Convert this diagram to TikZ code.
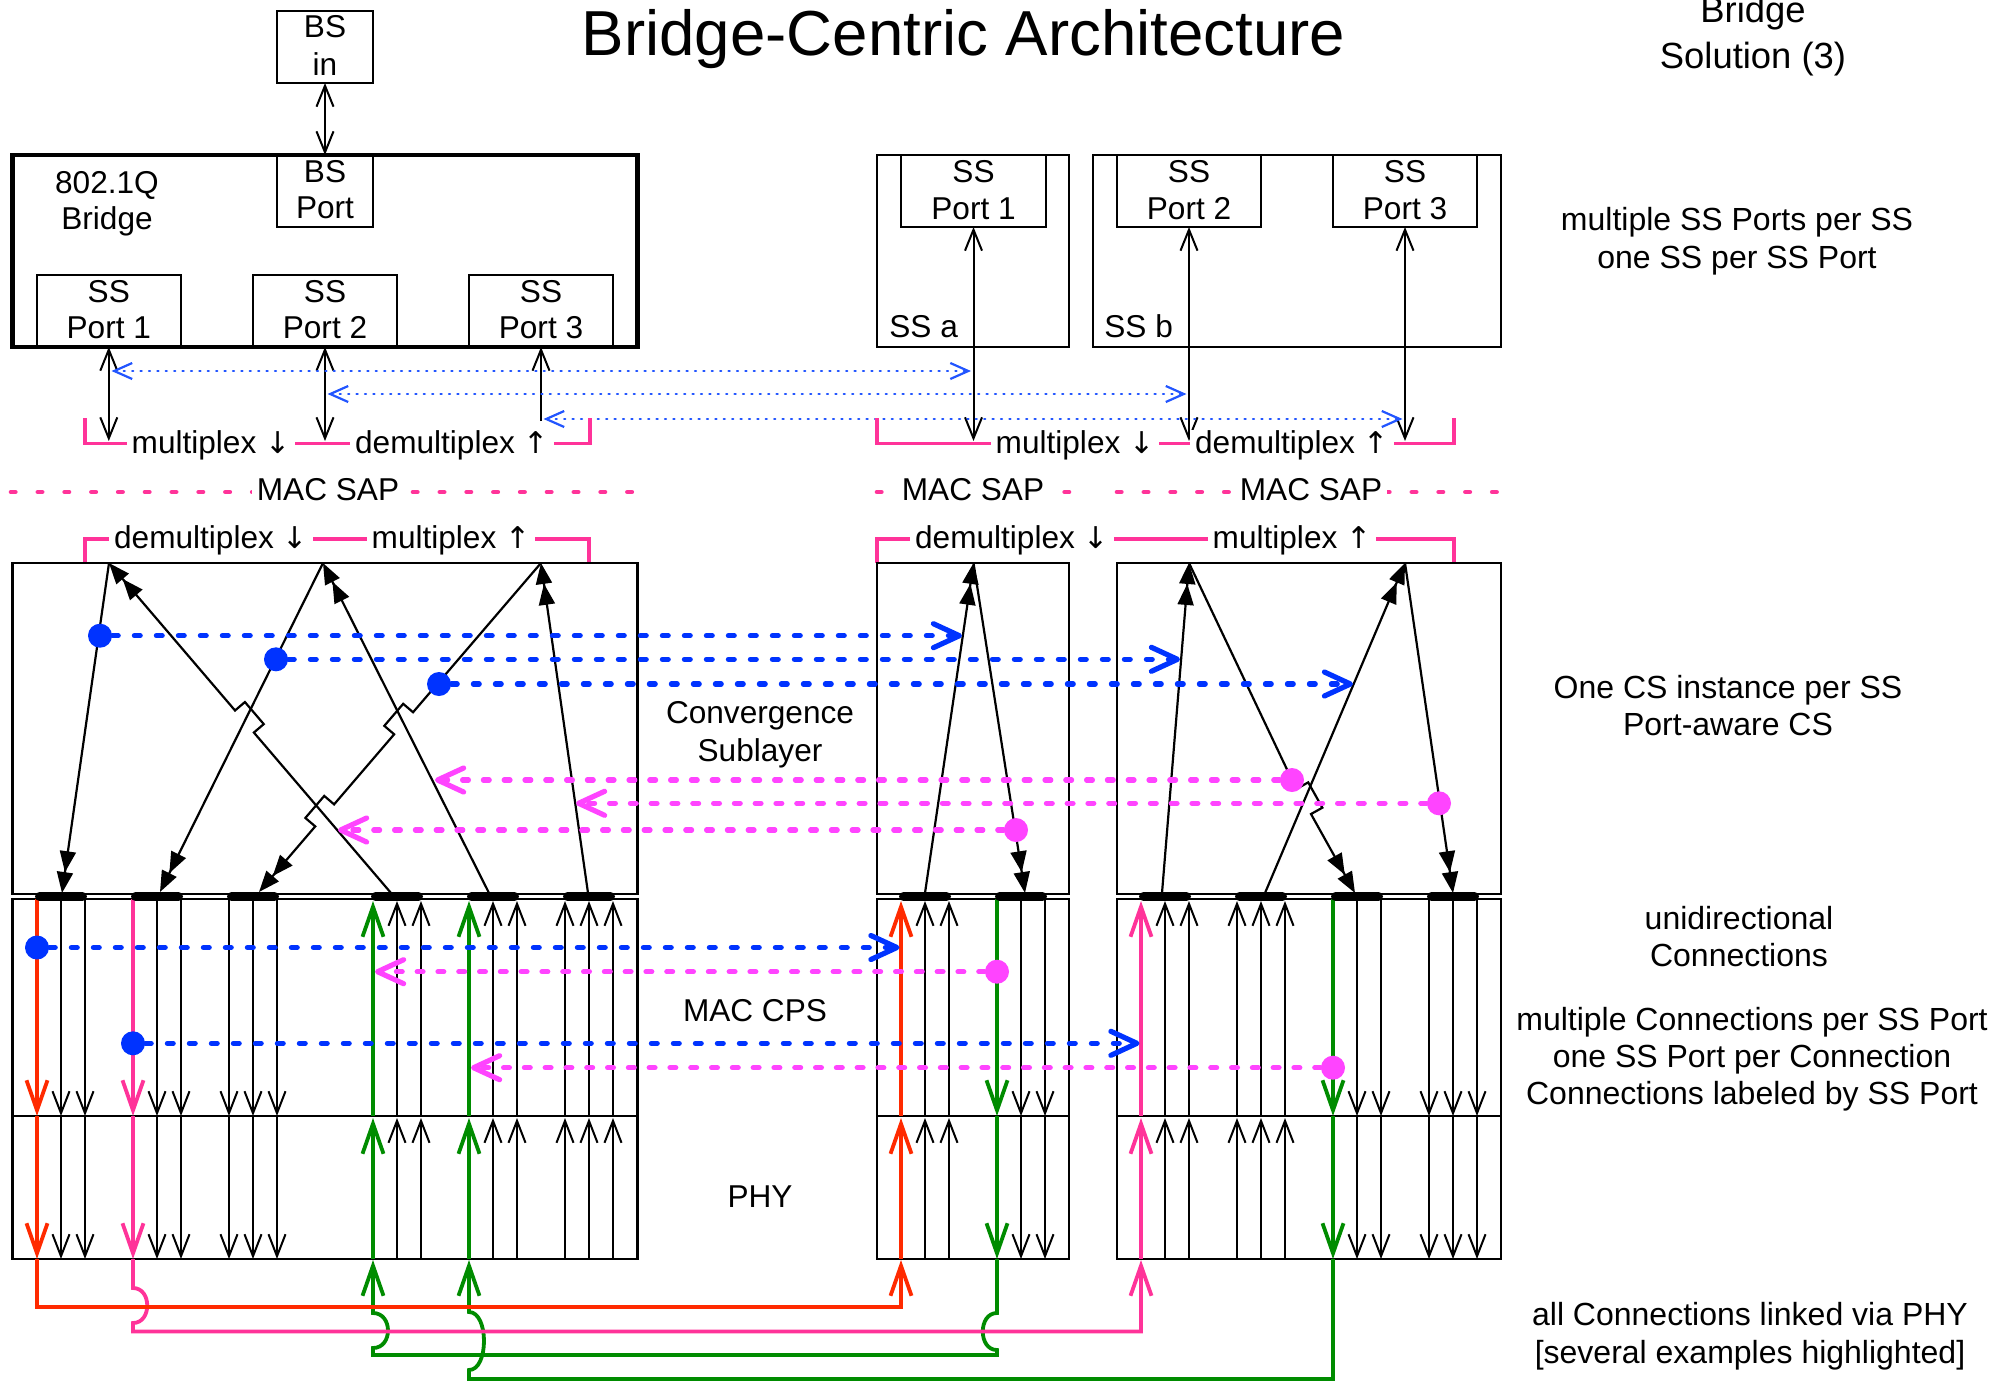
\documentclass[tikz,border=0pt]{standalone}
\usepackage{fontspec}
\setmainfont{Liberation Sans}
\newfontfamily\arrowglyph{DejaVu Sans}
\newcommand\dnar{{\arrowglyph\fontsize{15}{15}\selectfont ↓}}
\newcommand\upar{{\arrowglyph\fontsize{15}{15}\selectfont ↑}}
\usetikzlibrary{arrows.meta,calc,fit}
\definecolor{cred}{HTML}{FF2A00}
\definecolor{cpink}{HTML}{FF3399}
\definecolor{cmag}{HTML}{FF44FF}
\definecolor{cblue}{HTML}{0033FF}
\definecolor{ctblue}{HTML}{2255FF}
\definecolor{cgreen}{HTML}{008C00}
\newcommand\mkbump[6]{%
  \coordinate (#1a) at ($(#4)!7.25pt!(#2)$);
  \coordinate (#1b) at ($(#1a)!6.5pt!#5:(#4)$);
  \coordinate (#1d) at ($(#4)!7.25pt!(#3)$);
  \coordinate (#1c) at ($(#1d)!6.5pt!#6:(#4)$);
}
\tikzset{
  thinbox/.style={draw, line width=1.1pt, inner sep=0pt, outer sep=0pt},
  thickbox/.style={draw, line width=2.3pt, inner sep=0pt, outer sep=0pt},
  lbltext/.style={font=\fontsize{15.8}{18.5}\selectfont, inner sep=0pt, anchor=base},
  sidetext/.style={font=\fontsize{16}{19}\selectfont, inner sep=0pt, anchor=base},
  brl/.style={font=\fontsize{15.8}{18.5}\selectfont, fill=white, inner xsep=2.5pt, inner ysep=0.5pt, anchor=base},
  dblarrow/.style={line width=1pt, {Straight Barb[length=10.5pt,width=8.5pt]}-{Straight Barb[length=10.5pt,width=8.5pt]}},
  onearrow/.style={line width=1pt, -{Straight Barb[length=10.5pt,width=8.5pt]}},
  csarrow/.style={line width=1.1pt, -{Triangle[length=10.5pt,width=8pt]Triangle[length=10.5pt,width=8pt]}},
  connarrow/.style={line width=1pt, -{Straight Barb[length=11pt,width=8.5pt]}},
  colarrow/.style={line width=1.9pt, -{Straight Barb[length=15pt,width=10.5pt]}},
  tdot/.style={draw=ctblue, line width=1.1pt, line cap=round, dash pattern=on 0.6pt off 3.6pt, {Straight Barb[length=9pt,width=8pt]}-{Straight Barb[length=9pt,width=8pt]}},
  bdot/.style={draw=cblue, line width=2.6pt, line cap=round, dash pattern=on 2.9pt off 8.1pt, -{Straight Barb[length=13pt,width=12pt,round]}},
  mdot/.style={draw=cmag, line width=2.6pt, line cap=round, dash pattern=on 2.9pt off 7.5pt, -{Straight Barb[length=13pt,width=12pt,round]}},
  sapline/.style={draw=cpink, line width=2.3pt, line cap=round, dash pattern=on 2.2pt off 11.2pt},
  brkline/.style={draw=cpink, line width=1.9pt},
  cbar/.style={line width=4.5pt, line cap=round},
  dotb/.style={circle, fill=cblue, inner sep=0pt, minimum size=12pt},
  dotm/.style={circle, fill=cmag, inner sep=0pt, minimum size=12pt},
}
\begin{document}
\begin{tikzpicture}[x=0.5pt,y=-0.5pt]
\path[use as bounding box, fill=white] (0,0) rectangle (1997,1382);

% ---------- top boxes
\node[thinbox, fit={(277,11) (373,83)}] (bsin) {};
\node[thickbox, fit={(12.5,155) (637.5,347)}] (bridge) {};
\node[thinbox, fit={(277,155) (373,227)}] (bsport) {};
\node[thinbox, fit={(36.6,275) (181,347)}] (lp1) {};
\node[thinbox, fit={(253,275) (397,347)}] (lp2) {};
\node[thinbox, fit={(469,275) (613,347)}] (lp3) {};
\node[thinbox, fit={(877,155) (1069,347)}] (ssa) {};
\node[thinbox, fit={(901,155) (1046,227)}] (ap1) {};
\node[thinbox, fit={(1093,155) (1501,347)}] (ssb) {};
\node[thinbox, fit={(1117,155) (1261,227)}] (bp2) {};
\node[thinbox, fit={(1333,155) (1477,227)}] (bp3) {};

\node[lbltext] (t1) at (325,37.5) {BS};
\node[lbltext] (t2) at (325,75) {in};
\node[lbltext] (t3) at (325,182) {BS};
\node[lbltext] (t4) at (325,218.6) {Port};
\node[lbltext] (t5) at (107,193) {802.1Q};
\node[lbltext] (t6) at (107,229) {Bridge};
\node[lbltext] (t7) at (108.8,302) {SS};
\node[lbltext] (t8) at (108.8,338.6) {Port 1};
\node[lbltext] (t9) at (325,302) {SS};
\node[lbltext] (t10) at (325,338.6) {Port 2};
\node[lbltext] (t11) at (541,302) {SS};
\node[lbltext] (t12) at (541,338.6) {Port 3};
\node[lbltext] (t13) at (973.5,182) {SS};
\node[lbltext] (t14) at (973.5,219.6) {Port 1};
\node[lbltext] (t15) at (1189,182) {SS};
\node[lbltext] (t16) at (1189,219.6) {Port 2};
\node[lbltext] (t17) at (1405,182) {SS};
\node[lbltext] (t18) at (1405,219.6) {Port 3};
\node[lbltext, anchor=base west] (t19) at (889,337.5) {SS a};
\node[lbltext, anchor=base west] (t20) at (1104,337.5) {SS b};

% ---------- title and side texts
\node[font=\fontsize{31.8}{36}\selectfont, inner sep=0pt, anchor=base] (title) at (963.5,55) {Bridge-Centric Architecture};
\node[font=\fontsize{18.2}{22}\selectfont, inner sep=0pt, anchor=base] (sol1) at (1753,22.7) {Bridge};
\node[font=\fontsize{18.2}{22}\selectfont, inner sep=0pt, anchor=base] (sol2) at (1753,68.3) {Solution (3)};
\node[sidetext] (s1) at (1737,230) {multiple SS Ports per SS};
\node[sidetext] (s2) at (1737,268.3) {one SS per SS Port};
\node[sidetext] (s3) at (1728,698.3) {One CS instance per SS};
\node[sidetext] (s4) at (1728,735) {Port-aware CS};
\node[sidetext] (s5) at (1739,929.3) {unidirectional};
\node[sidetext] (s6) at (1739,966.7) {Connections};
\node[sidetext] (s7) at (1752,1030) {multiple Connections per SS Port};
\node[sidetext] (s8) at (1752,1067.3) {one SS Port per Connection};
\node[sidetext] (s9) at (1752,1104.6) {Connections labeled by SS Port};
\node[sidetext] (s10) at (1750,1325) {all Connections linked via PHY};
\node[sidetext] (s11) at (1750,1363.3) {[several examples highlighted]};

% ---------- top vertical arrows
\coordinate (lm1) at (108.8,441);
\coordinate (lm2) at (325,441);
\coordinate (lm3) at (541,421);
\coordinate (rm1) at (973.5,441);
\coordinate (rm2) at (1189,441);
\coordinate (rm3) at (1405,441);
\draw[dblarrow] (bsin.south) -- (bsport.north);
\draw[dblarrow] (lp1.south) -- (lm1);
\draw[dblarrow] (lp2.south) -- (lm2);
\draw[onearrow] (lm3) -- (lp3.south);
\draw[dblarrow] (ap1.south) -- (rm1);
\draw[dblarrow] (bp2.south) -- (rm2);
\draw[dblarrow] (bp3.south) -- (rm3);

% thin blue dotted arrows
\coordinate (q1l) at (111.5,371); \coordinate (q1r) at (971,371);
\coordinate (q2l) at (327.5,394); \coordinate (q2r) at (1186.5,394);
\coordinate (q3l) at (543.5,419); \coordinate (q3r) at (1402.5,419);
\draw[tdot] (q1l) -- (q1r);
\draw[tdot] (q2l) -- (q2r);
\draw[tdot] (q3l) -- (q3r);

% ---------- brackets and MAC SAP
\draw[brkline] (85,418) -- (85,443.5) -- (590,443.5) -- (590,418);
\node[brl] (mx1) at (211,453.6) {multiplex \dnar};
\node[brl] (dm1) at (452,453.6) {demultiplex \upar};
\draw[brkline] (877,418) -- (877,443.5) -- (1454,443.5) -- (1454,418);
\node[brl] (mx2) at (1075,453.6) {multiplex \dnar};
\node[brl] (dm2) at (1292,453.6) {demultiplex \upar};
\draw[sapline] (11,492) -- (634,492);
\node[brl] (sap1) at (328,500) {MAC SAP};
\draw[sapline] (877,492) -- (1069,492);
\node[brl] (sap2) at (973,500) {MAC SAP};
\draw[sapline] (1117,492) -- (1500,492);
\node[brl] (sap3) at (1311,500) {MAC SAP};
\draw[brkline] (85,563) -- (85,539) -- (589,539) -- (589,563);
\node[brl] (dm3) at (211,548) {demultiplex \dnar};
\node[brl] (mx3) at (451,548) {multiplex \upar};
\draw[brkline] (877,563) -- (877,539) -- (1454,539) -- (1454,563);
\node[brl] (dm4) at (1012,548) {demultiplex \dnar};
\node[brl] (mx4) at (1292,548) {multiplex \upar};

% ---------- layer boxes
\node[thinbox, fit={(12.5,563) (637.5,894)}] (lcs) {};
\node[thinbox, fit={(12.5,899) (637.5,1259)}] (lmac) {};
\node[thinbox, fit={(877,563) (1069,894)}] (acs) {};
\node[thinbox, fit={(877,899) (1069,1259)}] (amac) {};
\node[thinbox, fit={(1117,563) (1501,894)}] (bcs) {};
\node[thinbox, fit={(1117,899) (1501,1259)}] (bmac) {};
\draw[line width=1.1pt] (lmac.west |- 0,1116) -- (lmac.east |- 0,1116);
\draw[line width=1.1pt] (amac.west |- 0,1116) -- (amac.east |- 0,1116);
\draw[line width=1.1pt] (bmac.west |- 0,1116) -- (bmac.east |- 0,1116);

\node[lbltext] (cs1) at (760,723) {Convergence};
\node[lbltext] (cs2) at (760,761) {Sublayer};
\node[lbltext] (mcps) at (755,1021) {MAC CPS};
\node[lbltext] (phy) at (760,1207) {PHY};

% ---------- black connections
\foreach \x in {61,85,157,181,229,253,277,1021,1045,1357,1381,1429,1453,1477} {
  \draw[connarrow] (\x,899) -- (\x,1116);
  \draw[connarrow] (\x,1116) -- (\x,1259);
}
\foreach \x in {397,421,493,517,565,589,613,925,949,1165,1189,1237,1261,1285} {
  \draw[connarrow] (\x,1116) -- (\x,901);
  \draw[connarrow] (\x,1259) -- (\x,1118);
}

% ---------- coloured connections
% green 2
\draw[colarrow, cgreen] (1333,899) -- (1333,1116);
\draw[colarrow, cgreen] (1333,1116) -- (1333,1259);
\draw[colarrow, cgreen] (1333,1259) -- (1333,1379) -- (469,1379) -- (469,1370) .. controls (489,1370) and (489,1312) .. (469,1312) -- (469,1260);
\draw[colarrow, cgreen] (469,1259) -- (469,1118);
\draw[colarrow, cgreen] (469,1116) -- (469,901);
% green 1
\draw[colarrow, cgreen] (997,899) -- (997,1116);
\draw[colarrow, cgreen] (997,1116) -- (997,1259);
\draw[colarrow, cgreen] (997,1259) -- (997,1313) .. controls (978,1313) and (978,1350) .. (997,1350) -- (997,1355) -- (373,1355) -- (373,1348) .. controls (393,1348) and (393,1313) .. (373,1313) -- (373,1260);
\draw[colarrow, cgreen] (373,1259) -- (373,1118);
\draw[colarrow, cgreen] (373,1116) -- (373,901);
% pink
\draw[colarrow, cpink] (133,899) -- (133,1116);
\draw[colarrow, cpink] (133,1116) -- (133,1259);
\draw[colarrow, cpink] (133,1259) -- (133,1288) .. controls (152,1288) and (152,1323) .. (133,1323) -- (133,1331.5) -- (1141,1331.5) -- (1141,1260);
\draw[colarrow, cpink] (1141,1259) -- (1141,1118);
\draw[colarrow, cpink] (1141,1116) -- (1141,901);
% red
\draw[colarrow, cred] (37,899) -- (37,1116);
\draw[colarrow, cred] (37,1116) -- (37,1259);
\draw[colarrow, cred] (37,1259) -- (37,1306.7) -- (901,1306.7) -- (901,1260);
\draw[colarrow, cred] (901,1259) -- (901,1118);
\draw[colarrow, cred] (901,1116) -- (901,901);

% ---------- bars
\foreach \m in {61,157,253,397,493,589,925,1021,1165,1261,1357,1453}
  \draw[cbar] (\m-21.5,896.5) -- (\m+21.5,896.5);

% ---------- CS arrows
\coordinate (JA) at (109,563);
\coordinate (JB) at (323,563);
\coordinate (JC) at (541,563);
\coordinate (b1) at (62,893);
\coordinate (b2) at (160,892);
\coordinate (b3) at (259,892);
\coordinate (b4) at (391,893);
\coordinate (b5) at (489,893);
\coordinate (b6) at (588,893);
\coordinate (Ja) at (973.5,563);
\coordinate (ba1) at (925,893);
\coordinate (ba2) at (1025,893);
\coordinate (JD) at (1189,563);
\coordinate (JE) at (1405,563);
\coordinate (bb1) at (1162,893);
\coordinate (bb2) at (1265,893);
\coordinate (bb3) at (1355,893);
\coordinate (bb4) at (1453,893);
\coordinate (pd1) at (1292,780);

\coordinate (X1) at (intersection of JA--b4 and JB--b2);
\coordinate (X2) at (intersection of JC--b3 and JB--b5);
\coordinate (X3) at (intersection of JC--b3 and JA--b4);
\coordinate (X4) at (intersection of pd1--bb3 and JE--bb2);
\mkbump{k1}{JA}{b4}{X1}{90}{-90}
\mkbump{k2}{JC}{b3}{X2}{-90}{90}
\mkbump{k3}{JC}{b3}{X3}{-90}{90}
\mkbump{k4}{pd1}{bb3}{X4}{90}{-90}

\draw[csarrow] (JA) -- (b1);
\draw[csarrow] (b4) -- (k1d) -- (k1c) -- (k1b) -- (k1a) -- (JA);
\draw[csarrow] (JB) -- (b2);
\draw[csarrow] (b5) -- (JB);
\draw[csarrow] (JC) -- (k2a) -- (k2b) -- (k2c) -- (k2d) -- (k3a) -- (k3b) -- (k3c) -- (k3d) -- (b3);
\draw[csarrow] (b6) -- (JC);
\draw[csarrow] (ba1) -- (Ja);
\draw[csarrow] (Ja) -- (ba2);
\draw[csarrow] (bb1) -- (JD);
\draw[csarrow] (JD) -- (pd1) -- (k4a) -- (k4b) -- (k4c) -- (k4d) -- (bb3);
\draw[csarrow] (bb2) -- (JE);
\draw[csarrow] (JE) -- (bb4);

% ---------- dotted arrows and dots
\coordinate (bt1) at (962,635.7);
\coordinate (bt2) at (1180,659.3);
\coordinate (bt3) at (1353,684);
\node[dotb] (bd1) at (100,635.7) {};
\node[dotb] (bd2) at (276,659.3) {};
\node[dotb] (bd3) at (439,684) {};
\draw[bdot] (bd1) -- (bt1);
\draw[bdot] (bd2) -- (bt2);
\draw[bdot] (bd3) -- (bt3);

\coordinate (mt1) at (435,780);
\coordinate (mt2) at (576,803.3);
\coordinate (mt3) at (338,830);
\node[dotm] (md1) at (pd1) {};
\node[dotm] (md2) at (1439,803.3) {};
\node[dotm] (md3) at (1016,830) {};
\draw[mdot] (md1) -- (mt1);
\draw[mdot] (md2) -- (mt2);
\draw[mdot] (md3) -- (mt3);

\coordinate (bt4) at (899.5,947.5);
\coordinate (bt5) at (1139.5,1043.3);
\coordinate (mt4) at (375,971.7);
\coordinate (mt5) at (471,1067.7);
\node[dotb] (bd4) at (37,947.5) {};
\node[dotb] (bd5) at (133,1043.3) {};
\node[dotm] (md4) at (997,971.7) {};
\node[dotm] (md5) at (1333,1067.7) {};
\draw[bdot] (bd4) -- (bt4);
\draw[bdot] (bd5) -- (bt5);
\draw[mdot] (md4) -- (mt4);
\draw[mdot] (md5) -- (mt5);
\end{tikzpicture}
\end{document}
